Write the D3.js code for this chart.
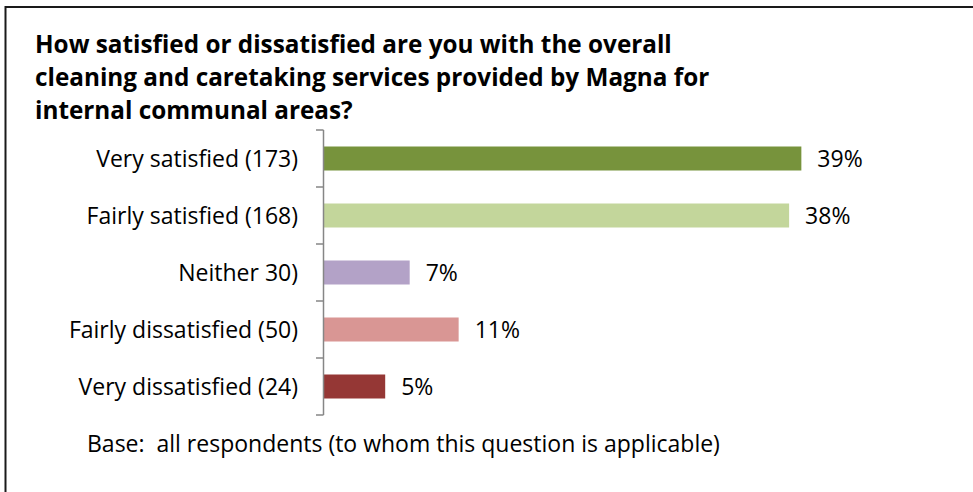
<!DOCTYPE html>
<html>
<head>
<meta charset="utf-8">
<script src="https://cdn.jsdelivr.net/npm/d3@7"></script>
<style>
  html, body { margin: 0; padding: 0; background: #fff; }
  svg { display: block; }
  text { font-family: "Open Sans", "Noto Sans", sans-serif; fill: #000; white-space: pre; }
</style>
</head>
<body>
<svg id="chart" width="973" height="492"></svg>
<script>
// Survey responses: category label, share of respondents (%), bar colour
const categories = [
  "Very satisfied (173)",
  "Fairly satisfied (168)",
  "Neither 30)",
  "Fairly dissatisfied (50)",
  "Very dissatisfied (24)"
];
const percentages = [39, 38, 7, 11, 5];
const barColors = ["#77933C", "#C3D69B", "#B3A2C7", "#D99694", "#953735"];
const titleLines = [
  "How satisfied or dissatisfied are you with the overall",
  "cleaning and caretaking services provided by Magna for",
  "internal communal areas?"
];
const baseNote = "Base:  all respondents (to whom this question is applicable)";

const svg = d3.select("#chart");

// Outer frame
svg.append("rect")
  .attr("x", 5.5).attr("y", 7)
  .attr("width", 1000).attr("height", 520)
  .attr("fill", "none")
  .attr("stroke", "#1a1a1a")
  .attr("stroke-width", 2);

// Title
const title = svg.append("text")
  .attr("font-size", 24.3)
  .attr("font-weight", "bold");
title.selectAll("tspan")
  .data(titleLines)
  .join("tspan")
  .attr("x", 35)
  .attr("y", (d, i) => 53 + i * 33)
  .text(d => d);

const axisX = 324;
const y = d3.scaleBand()
  .domain(categories)
  .range([130, 415])
  .paddingInner(0.579)
  .paddingOuter(0.2895);

const x = d3.scaleLinear()
  .domain([0, 40])
  .range([axisX, axisX + 12.24 * 40]);

const rows = categories.map((c, i) => ({ cat: c, value: percentages[i], color: barColors[i] }));

// Bars
svg.append("g")
  .selectAll("rect")
  .data(rows)
  .join("rect")
  .attr("x", x(0))
  .attr("y", d => y(d.cat))
  .attr("width", d => x(d.value) - x(0))
  .attr("height", y.bandwidth())
  .attr("fill", d => d.color);

// Category axis: vertical line with tick marks between categories
const axisG = svg.append("g");
const boundaries = d3.range(categories.length + 1).map(i => 130 + i * y.step());
axisG.append("line")
  .attr("x1", axisX - 0.5).attr("x2", axisX - 0.5)
  .attr("y1", 130).attr("y2", 415)
  .attr("stroke", "#868686").attr("stroke-width", 1.5);
axisG.selectAll("line.tick")
  .data(boundaries)
  .join("line")
  .attr("class", "tick")
  .attr("x1", axisX - 8).attr("x2", axisX - 0.5)
  .attr("y1", d => d).attr("y2", d => d)
  .attr("stroke", "#868686").attr("stroke-width", 1.5);

// Category labels
svg.append("g")
  .selectAll("text")
  .data(rows)
  .join("text")
  .attr("x", 298)
  .attr("y", d => y(d.cat) + y.bandwidth() / 2)
  .attr("dy", "0.35em")
  .attr("text-anchor", "end")
  .attr("font-size", 23)
  .text(d => d.cat);

// Value labels
svg.append("g")
  .selectAll("text")
  .data(rows)
  .join("text")
  .attr("x", d => x(d.value) + 16)
  .attr("y", d => y(d.cat) + y.bandwidth() / 2)
  .attr("dy", "0.35em")
  .attr("font-size", 23)
  .text(d => d.value + "%");

// Base note
svg.append("text")
  .attr("x", 87)
  .attr("y", 444)
  .attr("dy", "0.35em")
  .attr("font-size", 23)
  .text(baseNote);
</script>
</body>
</html>
